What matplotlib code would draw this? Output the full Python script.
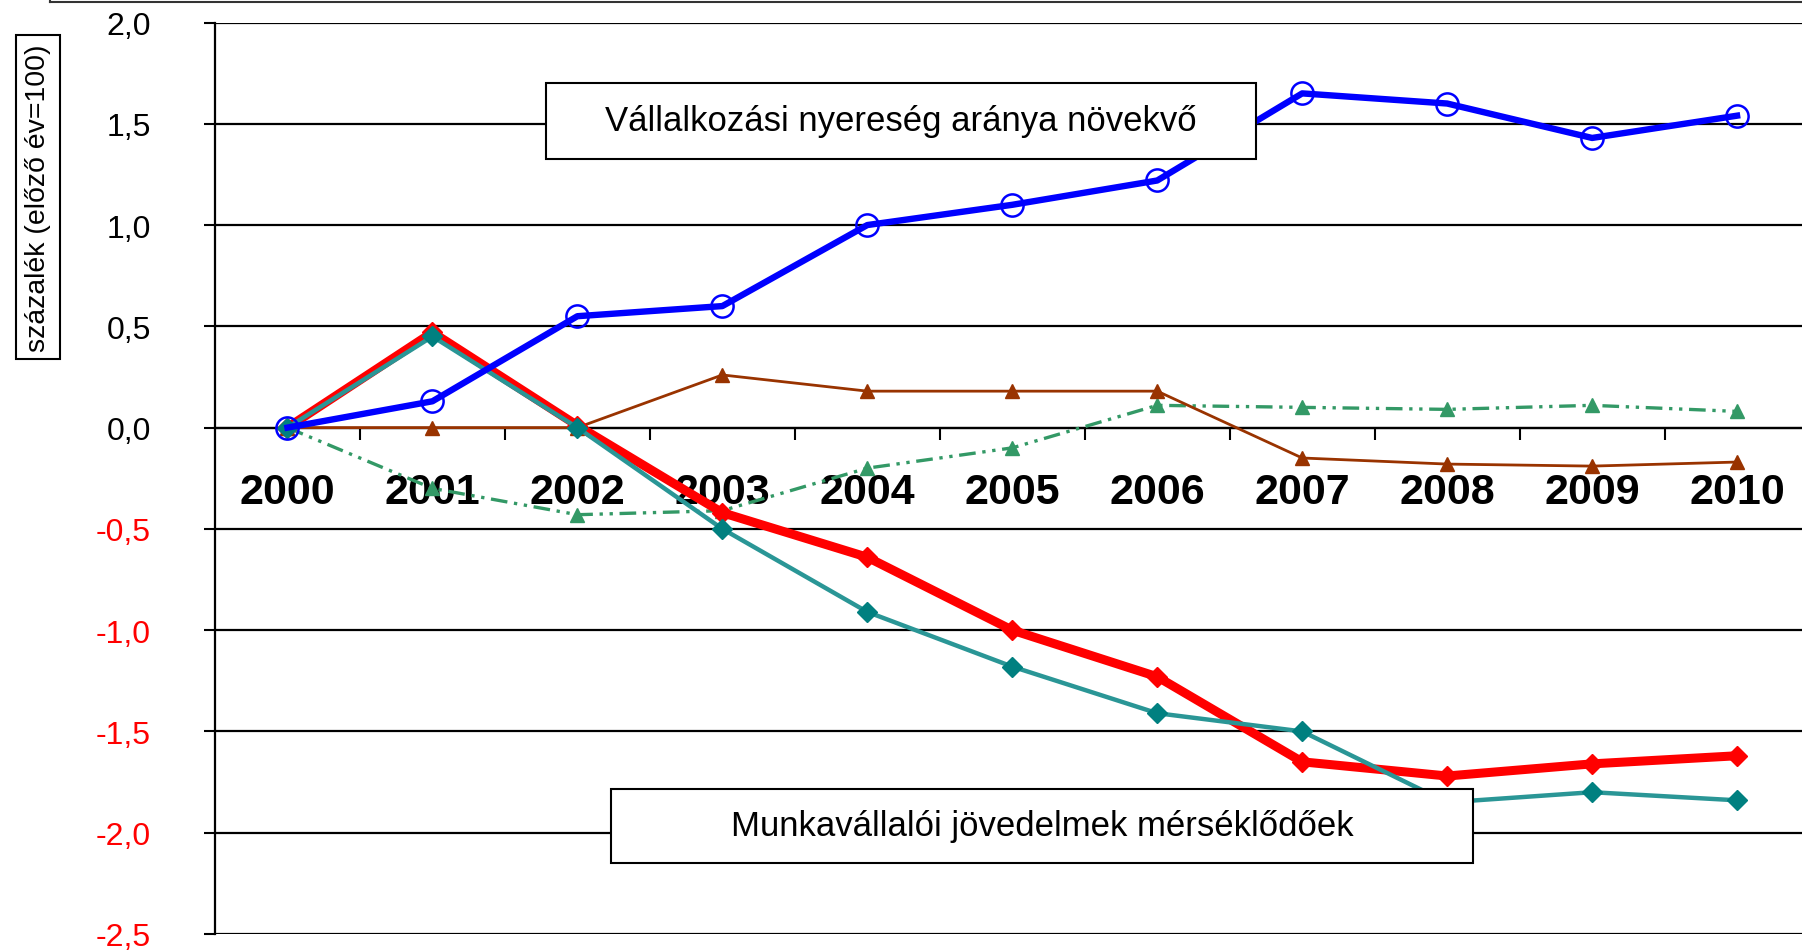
import numpy as np
import matplotlib
matplotlib.use('Agg')
from matplotlib import pyplot as plt
from matplotlib.patches import Rectangle
from matplotlib.lines import Line2D

years = ['2000', '2001', '2002', '2003', '2004', '2005', '2006', '2007', '2008', '2009', '2010']
profit = [0.0, 0.13, 0.55, 0.60, 1.00, 1.10, 1.22, 1.65, 1.60, 1.43, 1.54]
wage_a = [0.0, 0.47, 0.01, -0.42, -0.64, -1.00, -1.23, -1.65, -1.72, -1.66, -1.62]
wage_b = [0.0, 0.45, 0.0, -0.50, -0.91, -1.18, -1.41, -1.50, -1.85, -1.80, -1.84]
other_a = [0.0, 0.0, 0.0, 0.26, 0.18, 0.18, 0.18, -0.15, -0.18, -0.19, -0.17]
other_b = [0.0, -0.30, -0.43, -0.41, -0.20, -0.10, 0.11, 0.10, 0.09, 0.11, 0.08]
yticks = [-2.5, -2.0, -1.5, -1.0, -0.5, 0.0, 0.5, 1.0, 1.5, 2.0]

plt.rcParams['font.family'] = ['Liberation Sans', 'DejaVu Sans']

W, H = 1802, 953
fig = plt.figure(figsize=(W / 100, H / 100), dpi=100)
ax = fig.add_axes([215 / W, 18 / H, (W - 215) / W, 911.5 / H])

x = np.arange(len(years))
ax.plot(x, other_b, color='#339966', lw=2.4, ls=(0, (5, 2, 1, 2, 1, 2)),
        marker='^', ms=10.5, zorder=3)
ax.plot(x, other_a, color='#993300', lw=2.0, marker='^', ms=10.5, zorder=4)
ax.plot(x, wage_a, color='#ff0000', lw=6.5, marker='D', ms=10, zorder=5)
ax.plot(x, wage_b, color='#2a9696', lw=3.2, marker='D', ms=10,
        mfc='#008080', mec='#008080', zorder=6)
ax.plot(x, profit, color='#0000ff', lw=4.6, marker='o', ms=16,
        mfc='none', mew=1.8, zorder=7)

ax.set_xlim(-0.5, 10 + 65 / 145.1)
ax.set_ylim(-2.5, 2.0)

# y axis
ax.set_yticks(yticks)
ax.set_yticklabels([('%.1f' % v).replace('.', ',') for v in yticks])
for lbl, v in zip(ax.get_yticklabels(), yticks):
    lbl.set_color('red' if v < 0 else 'black')
ax.tick_params(axis='y', length=8, width=1.5, pad=38, labelsize=23)
ax.yaxis.grid(True, color='black', lw=1.6)

# x axis sits on zero
ax.spines['top'].set_visible(False)
ax.spines['right'].set_visible(False)
ax.spines['left'].set_linewidth(1.6)
ax.spines['bottom'].set_position(('data', 0))
ax.spines['bottom'].set_linewidth(1.6)
ax.set_xticks(x)
ax.set_xticklabels(years, fontsize=31, fontweight='bold')
ax.set_xticks(np.arange(0.5, 10, 1), minor=True)
ax.tick_params(axis='x', which='major', length=0, pad=32)
ax.tick_params(axis='x', which='minor', length=8.6, width=1.5, direction='out')

# text boxes
ax.add_patch(Rectangle((0.2086, 0.8503), 0.4474, 0.0834, transform=ax.transAxes,
                       fc='white', ec='black', lw=1.5, zorder=10))
ax.text(0.2086 + 0.4474 / 2, 0.8503 + 0.0834 / 2, 'Vállalkozási nyereség aránya növekvő',
        transform=ax.transAxes, ha='center', va='center', fontsize=25, zorder=11)
ax.add_patch(Rectangle((0.2495, 0.0779), 0.5432, 0.0812, transform=ax.transAxes,
                       fc='white', ec='black', lw=1.5, zorder=10))
ax.text(0.2495 + 0.5432 / 2, 0.0779 + 0.0812 / 2, 'Munkavállalói jövedelmek mérséklődőek',
        transform=ax.transAxes, ha='center', va='center', fontsize=25, zorder=11)

fig.text(38 / W, 1 - 198 / H, 'százalék (előző év=100)', rotation=90,
         ha='center', va='center', fontsize=20.5,
         bbox=dict(boxstyle='square,pad=0.3', fc='white', ec='black', lw=1.5))

# outer frame remnant at the top
fig.add_artist(Line2D([50 / W, 1], [1 - 3 / H, 1 - 3 / H], transform=fig.transFigure,
                      color='#333333', lw=1.5))
fig.add_artist(Line2D([50 / W, 50 / W], [1 - 3 / H, 1], transform=fig.transFigure,
                      color='#333333', lw=1.5))

fig.savefig('out.png', dpi=100)
